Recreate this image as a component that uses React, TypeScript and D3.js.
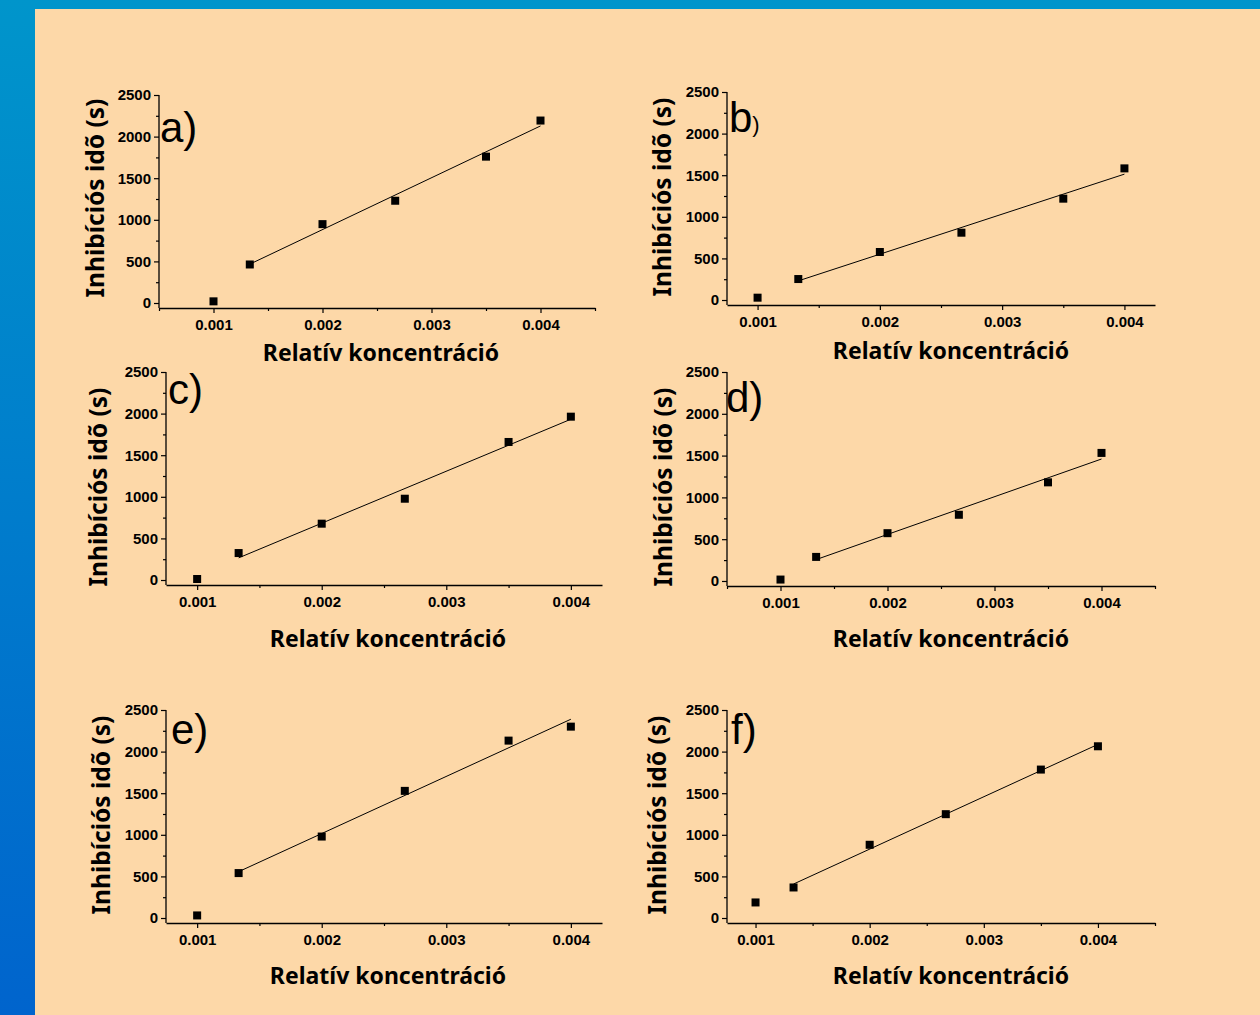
import * as d3 from "d3";
import { useRef, useEffect } from "react";

// значения по оси X (относительная концентрация), общие для всех графиков
const xValues = [0.001, 0.001333, 0.002, 0.002667, 0.0035, 0.004];

// времена ингибирования для каждого графика
const aValues = [20, 463, 948, 1229, 1759, 2193];
const bValues = [28, 252, 577, 809, 1218, 1582];
const cValues = [12, 324, 677, 977, 1659, 1963];
const dValues = [17, 288, 572, 792, 1180, 1532];
const eValues = [31, 540, 979, 1528, 2132, 2300];
const fValues = [187, 367, 880, 1248, 1784, 2064];

const yTicks = [0, 500, 1000, 1500, 2000, 2500];
const yMinorTicks = [250, 750, 1250, 1750, 2250];
const xTicks = [0.001, 0.002, 0.003, 0.004];
const xMinorTicks = [0.0005, 0.0015, 0.0025, 0.0035, 0.0045];

const xLabel = "Relatív koncentráció";
const yLabel = "Inhibíciós idõ (s)";

// расположение графиков на странице
const panels = [
  { letter: "a", values: aValues, xDomain: [0.0005, 0.0045], x: 159, y: 95, w: 436, h: 213, lx: 160, ly: 142, smallParen: false, xlx: 381, xly: 361, ylx: 104, yly: 198 },
  { letter: "b", values: bValues, xDomain: [0.00075, 0.00425], x: 727, y: 92, w: 428, h: 213, lx: 729, ly: 132, smallParen: true, xlx: 951, xly: 359, ylx: 671, yly: 197 },
  { letter: "c", values: cValues, xDomain: [0.00075, 0.00425], x: 166, y: 372, w: 436, h: 213, lx: 168, ly: 404, smallParen: false, xlx: 388, xly: 647, ylx: 107, yly: 487 },
  { letter: "d", values: dValues, xDomain: [0.0005, 0.0045], x: 727, y: 372, w: 428, h: 214, lx: 726, ly: 412, smallParen: false, xlx: 951, xly: 647, ylx: 672, yly: 487 },
  { letter: "e", values: eValues, xDomain: [0.00075, 0.00425], x: 166, y: 710, w: 436, h: 213, lx: 171, ly: 744, smallParen: false, xlx: 388, xly: 984, ylx: 110, yly: 815 },
  { letter: "f", values: fValues, xDomain: [0.00075, 0.0045], x: 727, y: 710, w: 428, h: 213, lx: 731, ly: 744, smallParen: false, xlx: 951, xly: 984, ylx: 666, yly: 815 },
];

const tickFont = "'Liberation Sans', Arial, sans-serif";
const labelFont = "'Noto Sans', 'Open Sans', sans-serif";

const Panel = ({ p }) => {
  const gRef = useRef(null);

  const scaleX = d3.scaleLinear().domain(p.xDomain).range([0, p.w]);
  const scaleY = d3.scaleLinear().domain([-60, 2500]).range([p.h, 0]);

  // линейная регрессия по точкам без первой
  const fitX = xValues.slice(1);
  const fitY = p.values.slice(1);
  const mx = d3.mean(fitX);
  const my = d3.mean(fitY);
  const slope = d3.sum(fitX, (x, i) => (x - mx) * (fitY[i] - my)) / d3.sum(fitX, (x) => (x - mx) ** 2);
  const fit = (x) => my + slope * (x - mx);
  const x0 = fitX[0];
  const x1 = fitX[fitX.length - 1];

  useEffect(() => {
    const g = d3.select(gRef.current);
    g.selectAll("*").remove();

    // оси
    const xAxis = g.append("g").attr("transform", `translate(0, ${p.h})`)
      .call(d3.axisBottom(scaleX).tickValues(xTicks).tickFormat(d3.format(".3f")).tickSize(5).tickSizeOuter(0).tickPadding(6));
    g.append("g").attr("transform", `translate(0, ${p.h})`)
      .call(d3.axisBottom(scaleX).tickValues(xMinorTicks.filter(t => t >= p.xDomain[0] - 1e-9 && t <= p.xDomain[1] + 1e-9)).tickFormat(() => "").tickSize(3).tickSizeOuter(0))
      .select(".domain").remove();

    const yAxis = g.append("g")
      .call(d3.axisLeft(scaleY).tickValues(yTicks).tickFormat(d3.format("d")).tickSize(5).tickSizeOuter(0).tickPadding(3));
    g.append("g")
      .call(d3.axisLeft(scaleY).tickValues(yMinorTicks).tickFormat(() => "").tickSize(3).tickSizeOuter(0))
      .select(".domain").remove();

    // ось Y начинается с 2500
    yAxis.select(".domain").attr("d", `M0,${scaleY(2500)}V${p.h}`);

    [xAxis, yAxis].forEach(a => {
      a.selectAll("text").style("font-family", tickFont).style("font-size", "15px").style("font-weight", "bold").attr("fill", "#000");
      a.select(".domain").attr("stroke", "#000").attr("stroke-width", 1.3);
    });
    g.selectAll(".tick line").attr("stroke", "#000").attr("stroke-width", 1.2);

    // линия аппроксимации
    g.append("line")
      .attr("x1", scaleX(x0)).attr("y1", scaleY(fit(x0)))
      .attr("x2", scaleX(x1)).attr("y2", scaleY(fit(x1)))
      .attr("stroke", "#000").attr("stroke-width", 1);

    // точки
    g.selectAll(".dot")
      .data(p.values)
      .enter()
      .append("rect")
      .attr("x", (d, i) => scaleX(xValues[i]) - 4)
      .attr("y", d => scaleY(d) - 4)
      .attr("width", 8)
      .attr("height", 8)
      .attr("fill", "#000");
  }, [p]);

  return (
    <g>
      <g ref={gRef} transform={`translate(${p.x}, ${p.y})`}></g>
      <text x={p.lx} y={p.ly} fontFamily="'Liberation Sans', Arial, sans-serif" fontSize={42} fill="#000">
        {p.letter}
        {p.smallParen ? <tspan fontSize={22}>)</tspan> : ")"}
      </text>
      <text x={p.xlx} y={p.xly} textAnchor="middle" fontFamily={labelFont} fontWeight="bold" fontSize={23} fill="#000">{xLabel}</text>
      <text transform={`translate(${p.ylx}, ${p.yly}) rotate(-90)`} textAnchor="middle" fontFamily={labelFont} fontWeight="bold" fontSize={24.5} fill="#000">{yLabel}</text>
    </g>
  );
};

export default function App() {
  return (
    <svg width={1260} height={1015} style={{ position: "absolute", left: 0, top: 0, display: "block" }}>
      <defs>
        <linearGradient id="bg" x1="0" y1="0" x2="0" y2="1">
          <stop offset="0" stopColor="#0095CB" />
          <stop offset="1" stopColor="#0064CD" />
        </linearGradient>
      </defs>
      <rect x={0} y={0} width={1260} height={1015} fill="url(#bg)" />
      <rect x={35} y={9} width={1225} height={1006} fill="#FDD8A8" />
      {panels.map(p => <Panel key={p.letter} p={p} />)}
    </svg>
  );
}
